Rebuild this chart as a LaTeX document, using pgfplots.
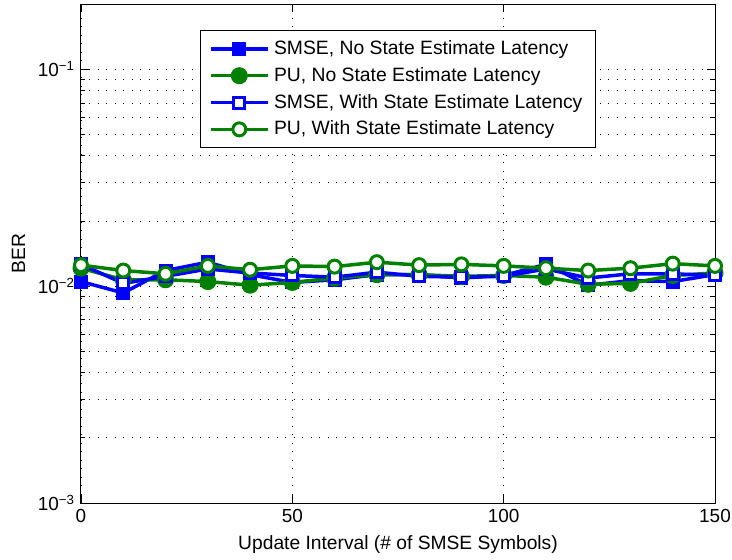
\documentclass[border=0pt]{standalone}
\usepackage{pgfplots}
\pgfplotsset{compat=1.18}
\usepackage{fontspec}
\setmainfont{Liberation Sans}
\definecolor{mblue}{rgb}{0,0,1}
\definecolor{mgreen}{rgb}{0,0.5,0}
\begin{document}
\fontsize{19}{22}\selectfont
\begin{tikzpicture}
\begin{axis}[
  at={(0,0)}, anchor=south west,
  scale only axis, width=634bp, height=499bp,
  xmin=0, xmax=150, ymin=1e-3, ymax=0.2,
  ymode=log,
  xtick={0,50,100,150},
  ytick={1e-3,1e-2,1e-1},
  yticklabels={10\textsuperscript{−3},10\textsuperscript{−2},10\textsuperscript{−1}},
  /pgf/number format/assume math mode=true,
  tick label style={font=\fontsize{19}{22}\selectfont},
  label style={font=\fontsize{19.3}{22}\selectfont},
  grid=both,
  major grid style={black, line width=0.5bp, dash pattern=on 0.8bp off 7.7bp},
  minor grid style={black, line width=0.5bp, dash pattern=on 0.8bp off 7.7bp},
  tick align=inside,
  major tick length=8bp, minor tick length=4bp,
  tick style={black, line width=0.6bp},
  axis line style={line width=1bp},
  xlabel={Update Interval (\# of SMSE Symbols)},
  ylabel={BER},
  legend cell align=left,
  legend style={at={(rel axis cs:0.187,0.948)}, anchor=north west,
    draw=black, line width=1bp, font=\fontsize{19.4}{23}\selectfont,
    inner xsep=9bp, inner ysep=8bp, row sep=6bp,
    nodes={inner xsep=4.5bp}},
  legend image code/.code={\draw[mark repeat=2,mark phase=2,#1] plot coordinates {(0bp,0bp) (28.5bp,0bp) (57bp,0bp)};},
]
\addplot[mblue, line width=3.5bp, mark=square*, mark size=6.5bp, mark options={solid, line width=1bp, fill=mblue}] coordinates {
(0,0.0105) (10,0.0093) (20,0.0118) (30,0.0129) (40,0.0113) (50,0.0104) (60,0.0107) (70,0.0113) (80,0.0113) (90,0.0109) (100,0.0112) (110,0.0126) (120,0.0101) (130,0.0106) (140,0.0105) (150,0.0113)};
\addlegendentry{SMSE, No State Estimate Latency}
\addplot[mgreen, line width=3.5bp, mark=*, mark size=8bp, mark options={solid, line width=1bp, fill=mgreen}] coordinates {
(0,0.0121) (10,0.0107) (20,0.0107) (30,0.0105) (40,0.0101) (50,0.0104) (60,0.0109) (70,0.0113) (80,0.0113) (90,0.0111) (100,0.0112) (110,0.0110) (120,0.0102) (130,0.0103) (140,0.0112) (150,0.0115)};
\addlegendentry{PU, No State Estimate Latency}
\addplot[mblue, line width=3.5bp, mark=square*, mark size=5.5bp, mark options={solid, line width=3bp, fill=white}] coordinates {
(0,0.0126) (10,0.0103) (20,0.0111) (30,0.0120) (40,0.0115) (50,0.0112) (60,0.0110) (70,0.0116) (80,0.0111) (90,0.0110) (100,0.0111) (110,0.0120) (120,0.0109) (130,0.0114) (140,0.0114) (150,0.0112)};
\addlegendentry{SMSE, With State Estimate Latency}
\addplot[mgreen, line width=3.5bp, mark=*, mark size=6.5bp, mark options={solid, line width=3bp, fill=white}] coordinates {
(0,0.0125) (10,0.0118) (20,0.0114) (30,0.0124) (40,0.0119) (50,0.0124) (60,0.0123) (70,0.0129) (80,0.0125) (90,0.0126) (100,0.0124) (110,0.0121) (120,0.0118) (130,0.0121) (140,0.0127) (150,0.0124)};
\addlegendentry{PU, With State Estimate Latency}
\end{axis}
\pgfresetboundingbox
\useasboundingbox (-81bp,-57bp) rectangle (651bp,503bp);
\end{tikzpicture}
\end{document}
